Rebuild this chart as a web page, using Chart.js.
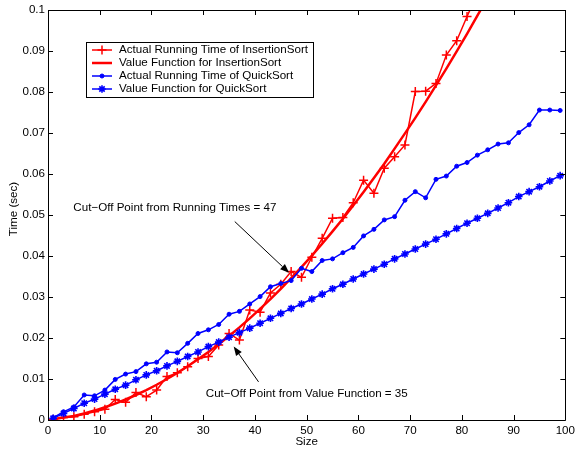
<!DOCTYPE html>
<html>
<head>
<meta charset="utf-8">
<script src="https://cdn.jsdelivr.net/npm/chart.js@4/dist/chart.umd.min.js"></script>
<style>
  html, body { margin: 0; padding: 0; background: #ffffff; }
  canvas { display: block; }
</style>
</head>
<body>
<canvas id="c" width="579" height="451"></canvas>
<script>
// Input sizes (x values)
const sizes = [1, 3, 5, 7, 9, 11, 13, 15, 17, 19, 21, 23, 25, 27, 29, 31, 33, 35, 37, 39,
               41, 43, 45, 47, 49, 51, 53, 55, 57, 59, 61, 63, 65, 67, 69, 71, 73, 75, 77, 79,
               81, 83, 85, 87, 89, 91, 93, 95, 97, 99];

// Measured InsertionSort times (sec)
const insertionActual = [0.0002, 0.0006, 0.0008, 0.0014, 0.0020, 0.0026, 0.0050, 0.0043, 0.0067, 0.0057,
                         0.0073, 0.0106, 0.0115, 0.0130, 0.0150, 0.0155, 0.0183, 0.0211, 0.0195, 0.0268,
                         0.0263, 0.0310, 0.0331, 0.0362, 0.0348, 0.0397, 0.0443, 0.0492, 0.0494, 0.0530,
                         0.0585, 0.0553, 0.0614, 0.0642, 0.0671, 0.0801, 0.0802, 0.0821, 0.0890, 0.0925,
                         0.0984, 0.1040];

// Value function for InsertionSort (sec)
const insertionValue = [0.0002, 0.0006, 0.0010, 0.0016, 0.0023, 0.0031, 0.0040, 0.0050, 0.0061, 0.0073,
                        0.0086, 0.0100, 0.0115, 0.0131, 0.0148, 0.0166, 0.0185, 0.0205, 0.0226, 0.0248,
                        0.0271, 0.0295, 0.0320, 0.0346, 0.0373, 0.0401, 0.0430, 0.0460, 0.0491, 0.0523,
                        0.0556, 0.0590, 0.0625, 0.0662, 0.0699, 0.0737, 0.0776, 0.0816, 0.0857, 0.0899,
                        0.0942, 0.0986, 0.1031];

// Measured QuickSort times (sec)
const quickActual = [0.0006, 0.0020, 0.0032, 0.0061, 0.0059, 0.0073, 0.0099, 0.0112, 0.0118, 0.0137,
                     0.0141, 0.0166, 0.0164, 0.0187, 0.0211, 0.0220, 0.0233, 0.0258, 0.0265, 0.0283,
                     0.0301, 0.0325, 0.0333, 0.0340, 0.0370, 0.0362, 0.0389, 0.0393, 0.0408, 0.0421,
                     0.0449, 0.0465, 0.0488, 0.0496, 0.0536, 0.0557, 0.0542, 0.0587, 0.0595, 0.0619,
                     0.0628, 0.0646, 0.0659, 0.0673, 0.0676, 0.0701, 0.0720, 0.0756, 0.0756, 0.0755];

// Value function for QuickSort (sec)
const quickValue = [0.0004, 0.0016, 0.0028, 0.0041, 0.0051, 0.0063, 0.0075, 0.0085, 0.0098, 0.0110,
                    0.0120, 0.0132, 0.0143, 0.0155, 0.0166, 0.0179, 0.0190, 0.0202, 0.0213, 0.0224,
                    0.0236, 0.0248, 0.0260, 0.0272, 0.0283, 0.0295, 0.0307, 0.0320, 0.0331, 0.0344,
                    0.0356, 0.0368, 0.0380, 0.0393, 0.0405, 0.0417, 0.0429, 0.0441, 0.0454, 0.0467,
                    0.0480, 0.0492, 0.0504, 0.0517, 0.0530, 0.0545, 0.0557, 0.0569, 0.0583, 0.0596];

const xTicks = [0, 10, 20, 30, 40, 50, 60, 70, 80, 90, 100];
const yTicks = [0, 0.01, 0.02, 0.03, 0.04, 0.05, 0.06, 0.07, 0.08, 0.09, 0.1];

const seriesNames = [
  'Actual Running Time of InsertionSort',
  'Value Function for InsertionSort',
  'Actual Running Time of QuickSort',
  'Value Function for QuickSort'
];

const xTitle = 'Size';
const yTitle = 'Time (sec)';

// Text callouts with arrows, in data coordinates
const callouts = [
  { text: 'Cut\u2212Off Point from Running Times = 47', at: [4.9, 0.0517], tail: [36.1, 0.0484], tip: [46.6, 0.0359] },
  { text: 'Cut\u2212Off Point from Value Function = 35', at: [30.5, 0.0064], tail: [40.7, 0.0093], tip: [35.9, 0.0179] }
];

const FONT = '"Liberation Sans", Arial, Helvetica, sans-serif';
const FONT_SIZE = 11.6;
const RED = '#ff0000';
const BLUE = '#0000ff';

function toPoints(values) {
  return values.map((v, i) => ({ x: sizes[i], y: v }));
}

Chart.defaults.font.family = FONT;
Chart.defaults.font.size = FONT_SIZE;
Chart.defaults.color = '#000000';

const datasets = [
  {
    label: seriesNames[0], data: toPoints(insertionActual),
    borderColor: RED, backgroundColor: RED, borderWidth: 1.5,
    pointStyle: 'cross', pointRadius: 4.5, pointBorderWidth: 1.5, order: 4
  },
  {
    label: seriesNames[1], data: toPoints(insertionValue),
    borderColor: RED, backgroundColor: RED, borderWidth: 2.5,
    pointRadius: 0, order: 3
  },
  {
    label: seriesNames[2], data: toPoints(quickActual),
    borderColor: BLUE, backgroundColor: BLUE, borderWidth: 1.5,
    pointStyle: 'circle', pointRadius: 2, pointBorderWidth: 1, order: 2
  },
  {
    label: seriesNames[3], data: toPoints(quickValue),
    borderColor: BLUE, backgroundColor: BLUE, borderWidth: 1.5,
    pointStyle: 'star', pointRadius: 3.8, pointBorderWidth: 1.6, order: 1
  }
];

// Frame, inward tick marks, axis titles, legend box and callouts
const decorations = {
  id: 'decorations',
  afterDraw(chart) {
    const ctx = chart.ctx;
    const a = chart.chartArea;
    const xs = chart.scales.x, ys = chart.scales.y;
    const TL = 5;
    ctx.save();
    ctx.strokeStyle = '#000';
    ctx.lineWidth = 1;
    ctx.beginPath();
    ctx.rect(Math.round(a.left) + 0.5, Math.round(a.top) + 0.5,
             Math.round(a.right - a.left), Math.round(a.bottom - a.top));
    ctx.stroke();
    ctx.beginPath();
    xTicks.forEach(v => {
      const px = Math.round(xs.getPixelForValue(v)) + 0.5;
      ctx.moveTo(px, a.bottom); ctx.lineTo(px, a.bottom - TL);
      ctx.moveTo(px, a.top); ctx.lineTo(px, a.top + TL);
    });
    yTicks.forEach(v => {
      const py = Math.round(ys.getPixelForValue(v)) + 0.5;
      ctx.moveTo(a.left, py); ctx.lineTo(a.left + TL, py);
      ctx.moveTo(a.right, py); ctx.lineTo(a.right - TL, py);
    });
    ctx.stroke();

    // axis titles
    ctx.fillStyle = '#000';
    ctx.font = FONT_SIZE + 'px ' + FONT;
    ctx.textAlign = 'center';
    ctx.textBaseline = 'middle';
    ctx.fillText(xTitle, (a.left + a.right) / 2, 442);
    ctx.save();
    ctx.translate(14, 209);
    ctx.rotate(-Math.PI / 2);
    ctx.fillText(yTitle, 0, 0);
    ctx.restore();

    // legend
    const box = { left: 86, top: 42, right: 313, bottom: 97 };
    ctx.fillStyle = '#fff';
    ctx.fillRect(box.left, box.top, box.right - box.left, box.bottom - box.top);
    ctx.strokeStyle = '#000';
    ctx.lineWidth = 1;
    ctx.strokeRect(box.left + 0.5, box.top + 0.5, box.right - box.left, box.bottom - box.top);
    ctx.textAlign = 'left';
    ctx.textBaseline = 'middle';
    chart.data.datasets.forEach((ds, i) => {
      const y = 50 + i * 13;
      ctx.strokeStyle = ds.borderColor;
      ctx.lineWidth = ds.borderWidth;
      ctx.beginPath();
      ctx.moveTo(92, y); ctx.lineTo(112, y);
      ctx.stroke();
      if (ds.pointRadius > 0) {
        ctx.lineWidth = ds.pointBorderWidth;
        ctx.fillStyle = ds.backgroundColor;
        Chart.helpers.drawPoint(ctx, {
          pointStyle: ds.pointStyle, radius: ds.pointRadius, rotation: 0,
          borderWidth: ds.pointBorderWidth
        }, 102, y);
      }
      ctx.fillStyle = '#000';
      ctx.fillText(ds.label, 119, y);
    });

    // callouts
    callouts.forEach(c => {
      const tx = xs.getPixelForValue(c.at[0]), ty = ys.getPixelForValue(c.at[1]);
      ctx.fillStyle = '#000';
      ctx.textAlign = 'left';
      ctx.textBaseline = 'middle';
      ctx.fillText(c.text, tx, ty);
      const x0 = xs.getPixelForValue(c.tail[0]), y0 = ys.getPixelForValue(c.tail[1]);
      const x1 = xs.getPixelForValue(c.tip[0]), y1 = ys.getPixelForValue(c.tip[1]);
      const ang = Math.atan2(y1 - y0, x1 - x0);
      const hl = 9, hw = 3.5;
      ctx.strokeStyle = '#000';
      ctx.lineWidth = 1;
      ctx.beginPath();
      ctx.moveTo(x0, y0);
      ctx.lineTo(x1 - hl * Math.cos(ang), y1 - hl * Math.sin(ang));
      ctx.stroke();
      ctx.beginPath();
      ctx.moveTo(x1, y1);
      ctx.lineTo(x1 - hl * Math.cos(ang) + hw * Math.sin(ang), y1 - hl * Math.sin(ang) - hw * Math.cos(ang));
      ctx.lineTo(x1 - hl * Math.cos(ang) - hw * Math.sin(ang), y1 - hl * Math.sin(ang) + hw * Math.cos(ang));
      ctx.closePath();
      ctx.fill();
    });
    ctx.restore();
  }
};

new Chart(document.getElementById('c'), {
  type: 'line',
  data: { datasets },
  options: {
    responsive: false,
    animation: false,
    events: [],
    layout: { padding: { top: 10, right: 10, left: 0, bottom: 0 } },
    plugins: { legend: { display: false }, tooltip: { enabled: false } },
    elements: { line: { tension: 0 } },
    scales: {
      x: {
        type: 'linear', min: 0, max: 100,
        grid: { display: false, drawTicks: false },
        border: { display: false },
        ticks: { stepSize: 10, padding: 4, maxRotation: 0, font: { size: FONT_SIZE } },
        afterBuildTicks: s => { s.ticks = xTicks.map(v => ({ value: v })); },
        afterFit: s => { s.height = 31; }
      },
      y: {
        type: 'linear', min: 0, max: 0.1,
        grid: { display: false, drawTicks: false },
        border: { display: false },
        ticks: { padding: 3, font: { size: FONT_SIZE }, callback: v => String(+v.toFixed(2)) },
        afterBuildTicks: s => { s.ticks = yTicks.map(v => ({ value: v })); },
        afterFit: s => { s.width = 48; }
      }
    }
  },
  plugins: [decorations]
});
</script>
</body>
</html>
